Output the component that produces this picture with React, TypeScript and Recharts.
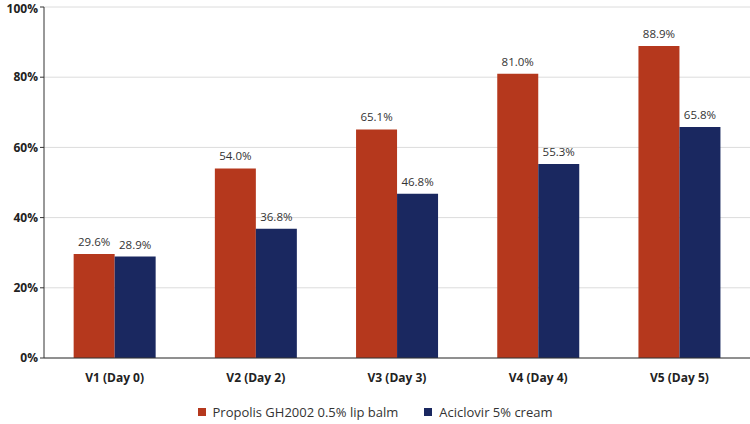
import React from 'react';
import { BarChart, Bar, XAxis, YAxis, CartesianGrid, Legend, LabelList } from 'recharts';

const categories = ['V1 (Day 0)', 'V2 (Day 2)', 'V3 (Day 3)', 'V4 (Day 4)', 'V5 (Day 5)'];
const propolis = [29.6, 54.0, 65.1, 81.0, 88.9];
const aciclovir = [28.9, 36.8, 46.8, 55.3, 65.8];
const yTicks = [0, 20, 40, 60, 80, 100];

const data = categories.map((c, i) => ({ name: c, propolis: propolis[i], aciclovir: aciclovir[i] }));

const FONT = '"Open Sans", "Noto Sans", sans-serif';

const renderLegend = () => (
  <div style={{ display: 'flex', justifyContent: 'center', fontFamily: FONT, fontSize: 13, color: '#333', lineHeight: '18px' }}>
    <span style={{ display: 'flex', alignItems: 'center', marginRight: 26 }}>
      <span style={{ width: 8, height: 8, background: '#B5381D', display: 'inline-block', marginRight: 7 }} />
      Propolis GH2002 0.5% lip balm
    </span>
    <span style={{ display: 'flex', alignItems: 'center' }}>
      <span style={{ width: 8, height: 8, background: '#1A2860', display: 'inline-block', marginRight: 7 }} />
      Aciclovir 5% cream
    </span>
  </div>
);

export default function App() {
  return (
    <div style={{ position: 'absolute', left: 0, top: 0 }}>
      <BarChart width={750} height={424} data={data} margin={{ top: 7, right: 0, left: 0, bottom: 0 }} barCategoryGap="21%" barGap={0}>
        <CartesianGrid vertical={false} stroke="#dcdcdc" />
        <XAxis dataKey="name" axisLine={{ stroke: '#333' }} tickLine={false} height={45} tickMargin={9}
          tick={{ fontFamily: FONT, fontSize: 12, fontWeight: 700, fill: '#222' }} />
        <YAxis domain={[0, 100]} ticks={yTicks} width={44} tickSize={4} axisLine={{ stroke: '#333' }} tickLine={{ stroke: '#333' }}
          tickFormatter={(v: number) => `${v}%`} tick={{ fontFamily: FONT, fontSize: 12, fontWeight: 700, fill: '#222' }} />
        <Legend verticalAlign="bottom" height={21} content={renderLegend} />
        <Bar dataKey="propolis" fill="#B5381D" isAnimationActive={false}>
          <LabelList dataKey="propolis" position="top" offset={8} formatter={(v: number) => `${v.toFixed(1)}%`}
            style={{ fontFamily: FONT, fontSize: 11.5, fill: '#333' }} />
        </Bar>
        <Bar dataKey="aciclovir" fill="#1A2860" isAnimationActive={false}>
          <LabelList dataKey="aciclovir" position="top" offset={8} formatter={(v: number) => `${v.toFixed(1)}%`}
            style={{ fontFamily: FONT, fontSize: 11.5, fill: '#333' }} />
        </Bar>
      </BarChart>
    </div>
  );
}
